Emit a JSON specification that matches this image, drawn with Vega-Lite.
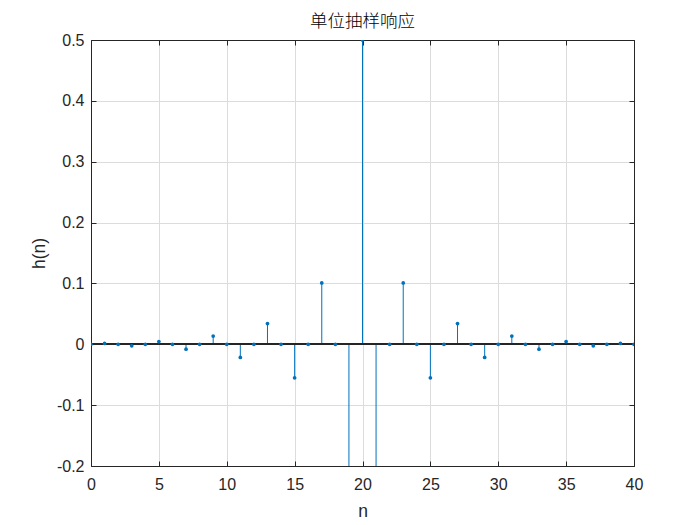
{
  "$schema": "https://vega.github.io/schema/vega-lite/v6.json",
  "autosize": "none",
  "padding": {"left": 91, "top": 40, "right": 66, "bottom": 59},
  "width": 543,
  "height": 426,
  "title": {"text": "单位抽样响应", "font": "Noto Sans CJK SC", "fontSize": 17.5, "fontWeight": 300, "color": "#000000", "offset": 2},
  "data": {"values": [
    {"n": 0, "h": 0}, {"n": 1, "h": 0.001435}, {"n": 2, "h": 0}, {"n": 3, "h": -0.002437},
    {"n": 4, "h": 0}, {"n": 5, "h": 0.004557}, {"n": 6, "h": 0}, {"n": 7, "h": -0.008109},
    {"n": 8, "h": 0}, {"n": 9, "h": 0.013544}, {"n": 10, "h": 0}, {"n": 11, "h": -0.021644},
    {"n": 12, "h": 0}, {"n": 13, "h": 0.034052}, {"n": 14, "h": 0}, {"n": 15, "h": -0.055085},
    {"n": 16, "h": 0}, {"n": 17, "h": 0.100783}, {"n": 18, "h": 0}, {"n": 19, "h": -0.316508},
    {"n": 20, "h": 0.5},
    {"n": 21, "h": -0.316508}, {"n": 22, "h": 0}, {"n": 23, "h": 0.100783}, {"n": 24, "h": 0},
    {"n": 25, "h": -0.055085}, {"n": 26, "h": 0}, {"n": 27, "h": 0.034052}, {"n": 28, "h": 0},
    {"n": 29, "h": -0.021644}, {"n": 30, "h": 0}, {"n": 31, "h": 0.013544}, {"n": 32, "h": 0},
    {"n": 33, "h": -0.008109}, {"n": 34, "h": 0}, {"n": 35, "h": 0.004557}, {"n": 36, "h": 0},
    {"n": 37, "h": -0.002437}, {"n": 38, "h": 0}, {"n": 39, "h": 0.001435}, {"n": 40, "h": 0}
  ]},
  "layer": [
    {
      "mark": {"type": "rule", "color": "#0072BD", "strokeWidth": 1, "clip": true},
      "encoding": {
        "x": {"field": "n", "type": "quantitative", "scale": {"domain": [0, 40], "nice": false, "zero": false},
          "axis": {"orient": "bottom", "values": [0, 5, 10, 15, 20, 25, 30, 35, 40], "title": "n", "grid": true, "labelPadding": 15, "titlePadding": 10}},
        "y": {"field": "h", "type": "quantitative", "scale": {"domain": [-0.2, 0.5], "nice": false, "zero": false},
          "axis": {"orient": "left", "values": [-0.2, -0.1, 0, 0.1, 0.2, 0.3, 0.4, 0.5], "title": "h(n)", "grid": true, "labelPadding": 12, "titlePadding": 8,
            "labelExpr": "replace(format(datum.value, '.1~f'), '\u2212', '-')"}},
        "y2": {"datum": 0}
      }
    },
    {
      "mark": {"type": "rule", "color": "#262626", "strokeWidth": 1},
      "encoding": {"y": {"datum": 0, "type": "quantitative", "axis": null}}
    },
    {
      "mark": {"type": "point", "filled": true, "color": "#0072BD", "size": 14, "opacity": 1, "clip": true},
      "encoding": {
        "x": {"field": "n", "type": "quantitative",
          "axis": {"orient": "top", "values": [0, 5, 10, 15, 20, 25, 30, 35, 40], "labels": false, "title": null, "grid": false}},
        "y": {"field": "h", "type": "quantitative",
          "axis": {"orient": "right", "values": [-0.2, -0.1, 0, 0.1, 0.2, 0.3, 0.4, 0.5], "labels": false, "title": null, "grid": false}}
      }
    }
  ],
  "resolve": {"axis": {"x": "independent", "y": "independent"}},
  "config": {
    "view": {"stroke": "#262626", "strokeWidth": 1},
    "axis": {
      "domainColor": "#262626",
      "tickColor": "#262626",
      "tickSize": -5,
      "labelFlush": false,
      "labelFont": "Liberation Sans",
      "labelFontSize": 16,
      "labelColor": "#262626",
      "titleFont": "Liberation Sans",
      "titleFontSize": 17.5,
      "titleFontWeight": "normal",
      "titleColor": "#262626",
      "gridColor": "#dcdcdc",
      "gridWidth": 1
    }
  }
}
